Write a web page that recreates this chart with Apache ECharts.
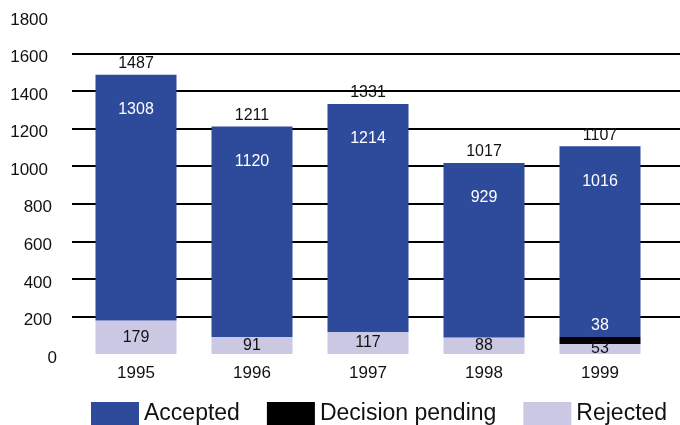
<!DOCTYPE html>
<html>
<head>
<meta charset="utf-8">
<style>
  html, body { margin: 0; padding: 0; background: #fff; }
  #chart { width: 680px; height: 425px; }
</style>
<script src="https://cdn.jsdelivr.net/npm/echarts@6/dist/echarts.min.js"></script>
</head>
<body>
<div id="chart"></div>
<script>
// Applications per year, split by outcome
const years = ['1995', '1996', '1997', '1998', '1999'];
const accepted = [1308, 1120, 1214, 929, 1016];
const pending = [null, null, null, null, 38];
const rejected = [179, 91, 117, 88, 53];
const totals = [1487, 1211, 1331, 1017, 1107];
const yTicks = { min: 0, max: 1800, step: 200 };

const FONT = 'Liberation Sans, Arial, sans-serif';
const BLUE = '#2E4A9B';
const LAVENDER = '#CBC8E4';
const INK = '#111';

const chart = echarts.init(document.getElementById('chart'), null, { renderer: 'canvas' });

const plotTop = 16;
const plotHeight = 338;

const barCommon = {
  type: 'bar',
  xAxisIndex: 1,
  yAxisIndex: 1,
  barWidth: 81,
  barGap: '-100%',
  emphasis: { disabled: true }
};

chart.setOption({
  animation: false,
  textStyle: { fontFamily: FONT },
  grid: [
    // full-width grid carrying the horizontal rules and value labels
    { left: 72, right: 0, top: plotTop, height: plotHeight },
    // grid holding the year columns
    { left: 78, right: 22, top: plotTop, height: plotHeight }
  ],
  legend: {
    data: ['Accepted', 'Decision pending', 'Rejected'],
    left: 91,
    top: 402,
    padding: 0,
    itemWidth: 48,
    itemHeight: 24,
    itemGap: 27,
    icon: 'rect',
    selectedMode: false,
    textStyle: { fontFamily: FONT, fontSize: 23, color: INK }
  },
  xAxis: [
    { gridIndex: 0, type: 'value', show: false, min: 0, max: 1 },
    {
      gridIndex: 1,
      type: 'category',
      data: years,
      axisLine: { show: false },
      axisTick: { show: false },
      axisLabel: { fontFamily: FONT, fontSize: 17, color: INK, margin: 11 }
    }
  ],
  yAxis: [
    {
      gridIndex: 0,
      type: 'value',
      min: yTicks.min,
      max: yTicks.max,
      interval: yTicks.step,
      axisLine: { show: false },
      axisTick: { show: false },
      splitLine: {
        show: true,
        showMinLine: false,
        showMaxLine: false,
        lineStyle: { color: '#000', width: 2 }
      },
      axisLabel: {
        fontFamily: FONT,
        fontSize: 17,
        color: INK,
        margin: 15,
        padding: [8, 0, 0, 0],
        formatter: v => v >= 1000 ? '{a|' + v + '}' : (v >= 100 ? '{b|' + v + '}' : '{c|' + v + '}'),
        rich: {
          a: { fontFamily: FONT, fontSize: 17, color: INK, padding: [0, 9, 0, 0] },
          b: { fontFamily: FONT, fontSize: 17, color: INK, padding: [0, 5, 0, 0] },
          c: { fontFamily: FONT, fontSize: 17, color: INK }
        }
      }
    },
    {
      gridIndex: 1,
      type: 'value',
      min: yTicks.min,
      max: yTicks.max,
      interval: yTicks.step,
      show: false,
      splitLine: { show: false }
    }
  ],
  series: [
    Object.assign({}, barCommon, {
      name: 'Rejected',
      stack: 'apps',
      data: rejected,
      itemStyle: { color: LAVENDER },
      label: { show: true, position: 'inside', fontFamily: FONT, fontSize: 16, color: INK }
    }),
    Object.assign({}, barCommon, {
      name: 'Decision pending',
      stack: 'apps',
      data: pending,
      itemStyle: { color: '#000' },
      label: { show: true, position: 'top', distance: 3, fontFamily: FONT, fontSize: 16, color: '#fff' }
    }),
    Object.assign({}, barCommon, {
      name: 'Accepted',
      stack: 'apps',
      data: accepted,
      itemStyle: { color: BLUE },
      label: { show: true, position: 'insideTop', distance: 27, fontFamily: FONT, fontSize: 16, color: '#fff' }
    }),
    // invisible column over each stack, used only to print the yearly total
    Object.assign({}, barCommon, {
      name: 'Total',
      data: totals,
      z: 1,
      itemStyle: { color: 'rgba(0,0,0,0)' },
      label: { show: true, position: 'top', distance: 3, fontFamily: FONT, fontSize: 16, color: INK }
    })
  ]
});
</script>
</body>
</html>
